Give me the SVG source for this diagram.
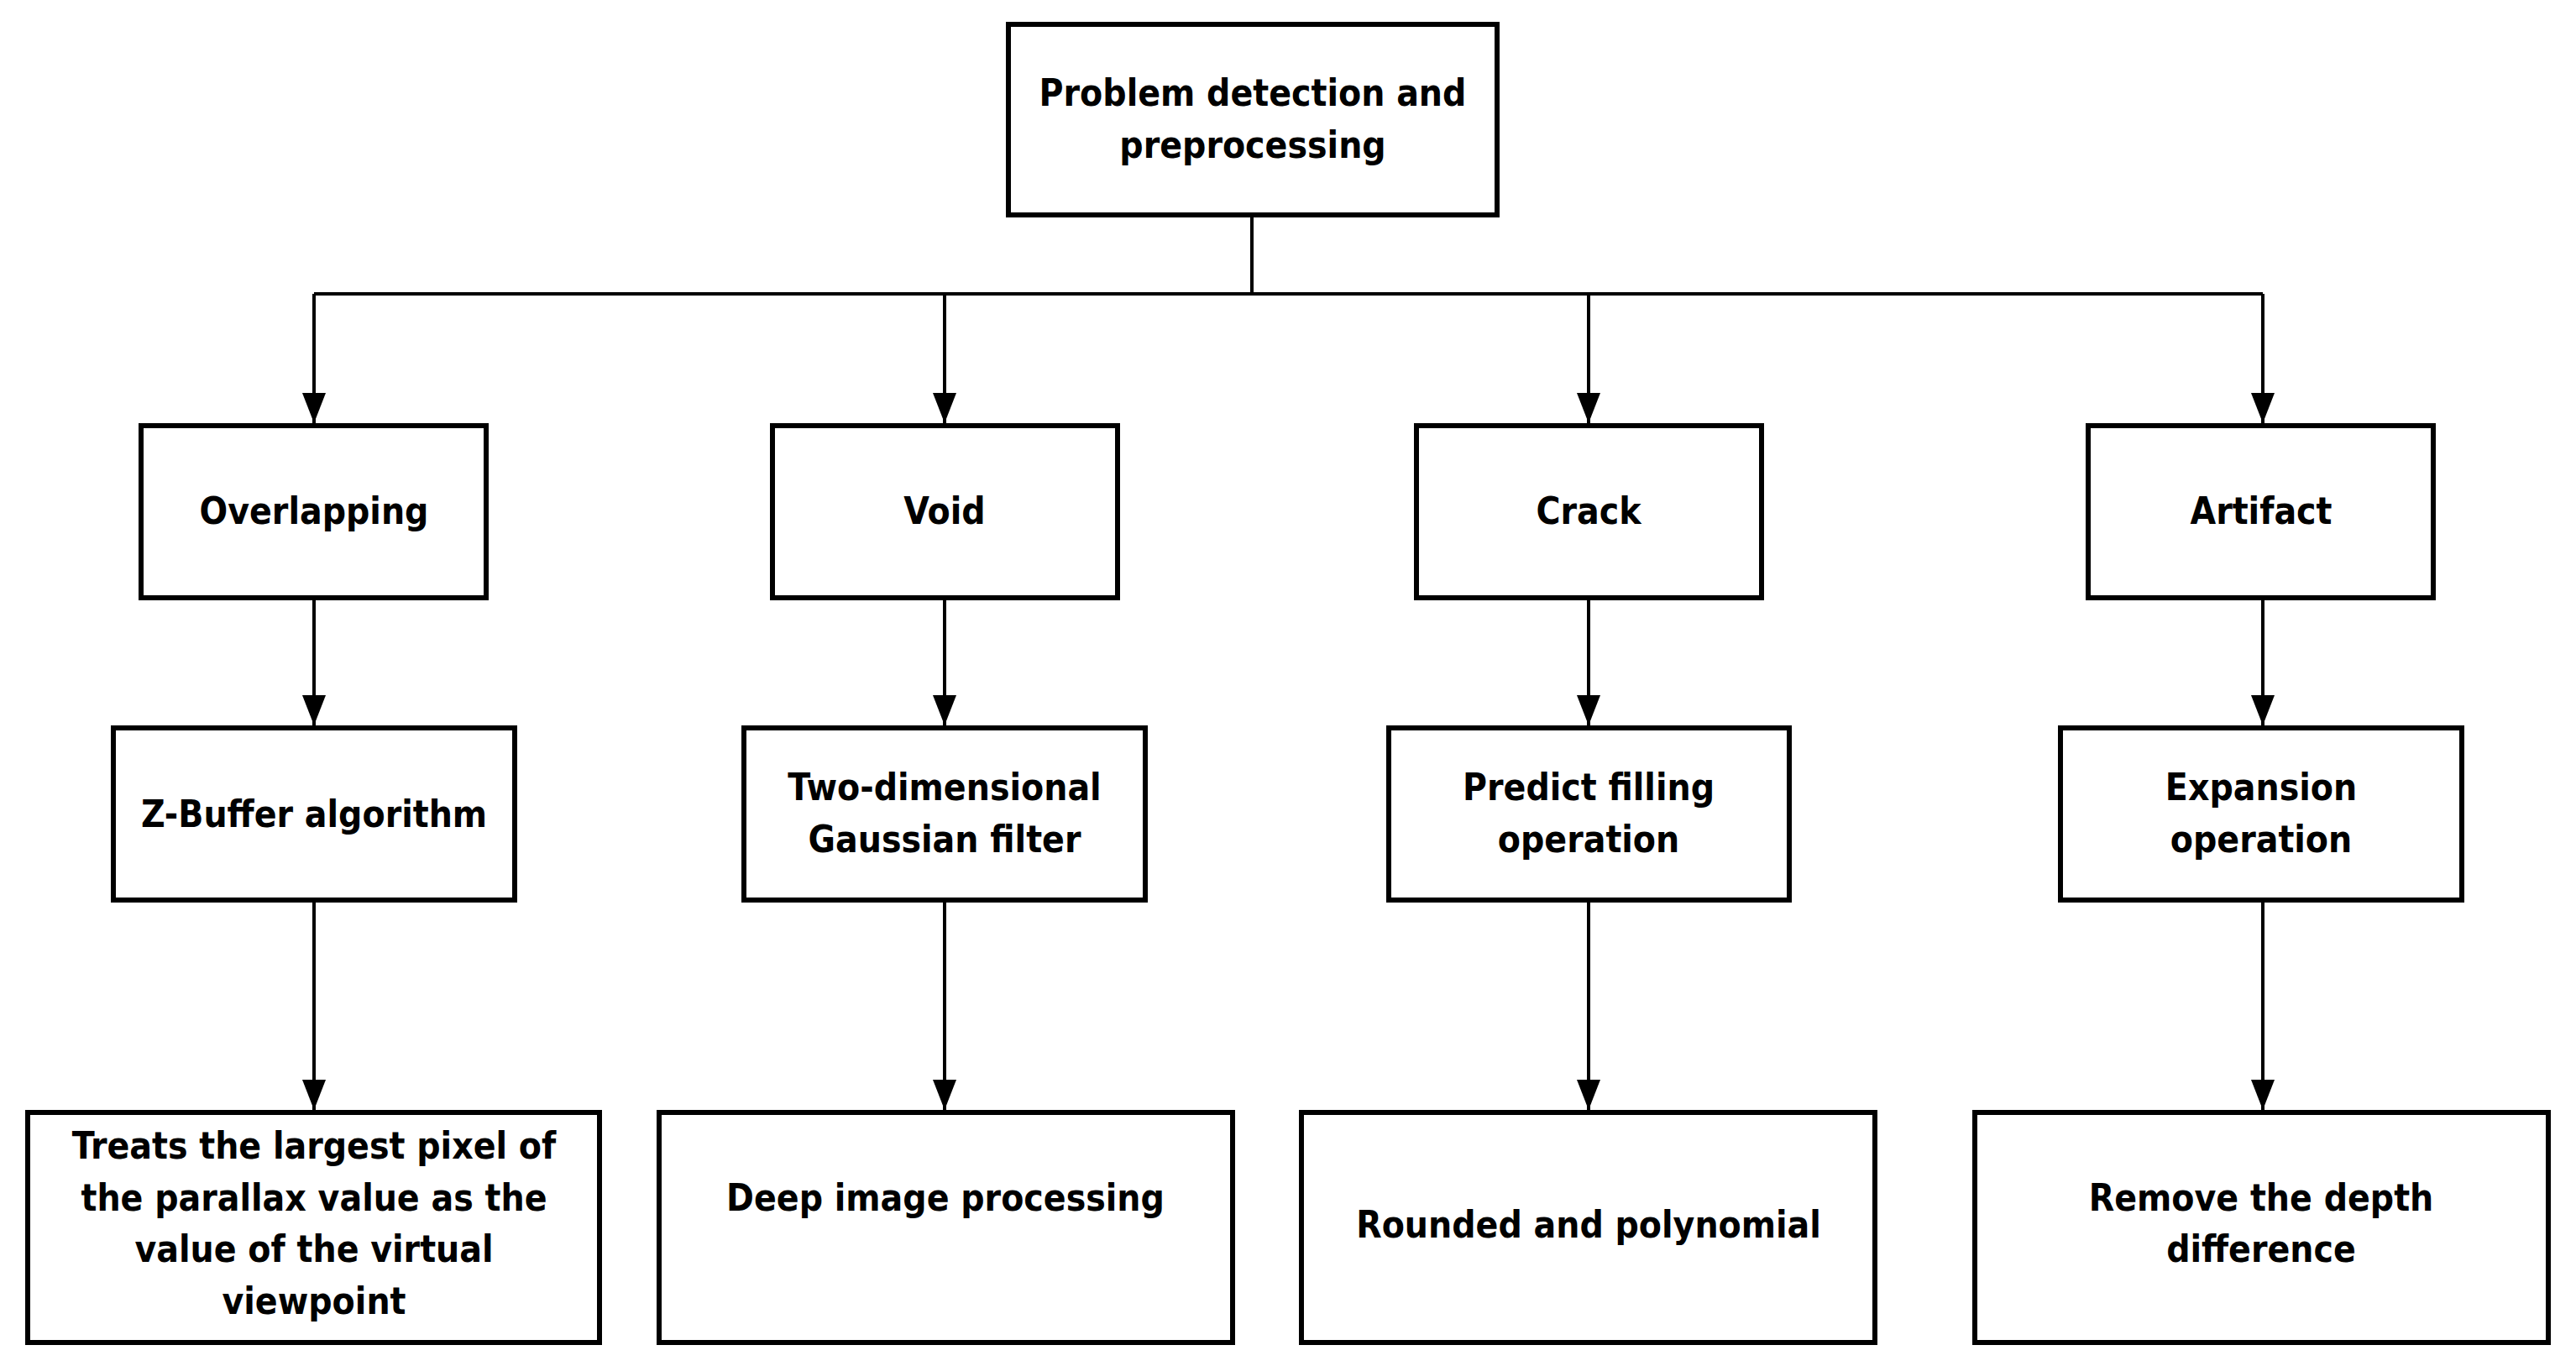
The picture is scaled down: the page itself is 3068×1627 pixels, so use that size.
<svg xmlns="http://www.w3.org/2000/svg" width="3068" height="1627" viewBox="0 0 3068 1627">
<style>
.b{fill:#fff;stroke:#000;stroke-width:6}
.t{font-family:"DejaVu Sans Condensed","DejaVu Sans",sans-serif;font-weight:bold;font-size:44px;text-anchor:middle;fill:#000}
.c{fill:none;stroke:#000;stroke-width:4}
</style>
<defs>
<marker id="a" markerUnits="userSpaceOnUse" markerWidth="36" markerHeight="28" refX="36" refY="14" orient="auto" viewBox="0 0 36 28">
<path d="M0,0 L36,14 L0,28 Z" fill="#000"/>
</marker>
</defs>
<rect width="3068" height="1627" fill="#fff"/>
<g id="connectors">
<path class="c" d="M1491,256 V350"/>
<path class="c" d="M374,350 H2695"/>
<path class="c" d="M374,350 V504" marker-end="url(#a)"/>
<path class="c" d="M1125,350 V504" marker-end="url(#a)"/>
<path class="c" d="M1892,350 V504" marker-end="url(#a)"/>
<path class="c" d="M2695,350 V504" marker-end="url(#a)"/>
<path class="c" d="M374,712 V864" marker-end="url(#a)"/>
<path class="c" d="M1125,712 V864" marker-end="url(#a)"/>
<path class="c" d="M1892,712 V864" marker-end="url(#a)"/>
<path class="c" d="M2695,712 V864" marker-end="url(#a)"/>
<path class="c" d="M374,1072 V1322" marker-end="url(#a)"/>
<path class="c" d="M1125,1072 V1322" marker-end="url(#a)"/>
<path class="c" d="M1892,1072 V1322" marker-end="url(#a)"/>
<path class="c" d="M2695,1072 V1322" marker-end="url(#a)"/>
</g>
<g id="top"><rect class="b" x="1201" y="29" width="582" height="227"/><text class="t" x="1492" y="126">Problem detection and</text><text class="t" x="1492" y="188">preprocessing</text></g>
<g id="overlapping"><rect class="b" x="168" y="507" width="411" height="205"/><text class="t" x="374" y="624">Overlapping</text></g>
<g id="void"><rect class="b" x="920" y="507" width="411" height="205"/><text class="t" x="1125" y="624">Void</text></g>
<g id="crack"><rect class="b" x="1687" y="507" width="411" height="205"/><text class="t" x="1892" y="624">Crack</text></g>
<g id="artifact"><rect class="b" x="2487" y="507" width="411" height="205"/><text class="t" x="2693" y="624">Artifact</text></g>
<g id="zbuffer"><rect class="b" x="135" y="867" width="478" height="205"/><text class="t" x="374" y="985">Z-Buffer algorithm</text></g>
<g id="gaussian"><rect class="b" x="886" y="867" width="478" height="205"/><text class="t" x="1125" y="953">Two-dimensional</text><text class="t" x="1125" y="1015">Gaussian filter</text></g>
<g id="predict"><rect class="b" x="1654" y="867" width="477" height="205"/><text class="t" x="1892" y="953">Predict filling</text><text class="t" x="1892" y="1015">operation</text></g>
<g id="expansion"><rect class="b" x="2454" y="867" width="478" height="205"/><text class="t" x="2693" y="953">Expansion</text><text class="t" x="2693" y="1015">operation</text></g>
<g id="treats"><rect class="b" x="33" y="1325" width="681" height="274"/><text class="t" x="374" y="1380">Treats the largest pixel of</text><text class="t" x="374" y="1442">the parallax value as the</text><text class="t" x="374" y="1503">value of the virtual</text><text class="t" x="374" y="1565">viewpoint</text></g>
<g id="deep"><rect class="b" x="785" y="1325" width="683" height="274"/><text class="t" x="1126" y="1442">Deep image processing</text></g>
<g id="rounded"><rect class="b" x="1550" y="1325" width="683" height="274"/><text class="t" x="1892" y="1474">Rounded and polynomial</text></g>
<g id="remove"><rect class="b" x="2352" y="1325" width="683" height="274"/><text class="t" x="2693" y="1442">Remove the depth</text><text class="t" x="2693" y="1503">difference</text></g>
</svg>
